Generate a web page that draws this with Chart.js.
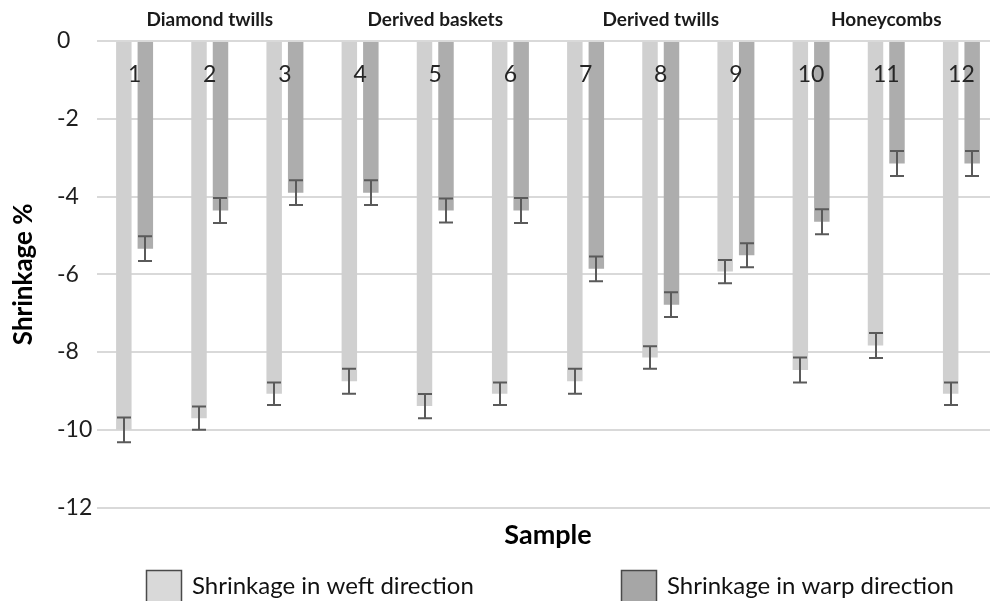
<!DOCTYPE html>
<html>
<head>
<meta charset="utf-8">
<title>Shrinkage by sample</title>
<script src="https://cdn.jsdelivr.net/npm/chart.js@4.4.1/dist/chart.umd.min.js"></script>
<style>
  html, body { margin: 0; padding: 0; background: #ffffff; overflow: hidden; }
  #wrap { width: 1000px; height: 601px; }
</style>
</head>
<body>
<div id="wrap"><canvas id="chart" width="1000" height="601"></canvas></div>
<script>
// Sample numbers and weave groups
const categories = ['1', '2', '3', '4', '5', '6', '7', '8', '9', '10', '11', '12'];
const groups = [
  { label: 'Diamond twills', from: 0, to: 2 },
  { label: 'Derived baskets', from: 3, to: 5 },
  { label: 'Derived twills', from: 6, to: 8 },
  { label: 'Honeycombs', from: 9, to: 11 }
];

// Shrinkage (%) and standard deviations
const weft = [-10.0, -9.70, -9.07, -8.75, -9.39, -9.07, -8.75, -8.14, -5.93, -8.46, -7.83, -9.07];
const warp = [-5.34, -4.36, -3.90, -3.90, -4.36, -4.36, -5.86, -6.78, -5.51, -4.65, -3.15, -3.15];
const weftErr = [0.32, 0.30, 0.29, 0.32, 0.31, 0.29, 0.32, 0.29, 0.30, 0.32, 0.32, 0.29];
const warpErr = [0.32, 0.32, 0.32, 0.32, 0.31, 0.32, 0.32, 0.32, 0.31, 0.32, 0.32, 0.32];

const seriesLabels = ['Shrinkage in weft direction', 'Shrinkage in warp direction'];
const yTicks = [0, -2, -4, -6, -8, -10, -12];

const FONT = 'Lato, "Open Sans", sans-serif';
const errors = [weftErr, warpErr];

const decorations = {
  id: 'decorations',
  afterDatasetsDraw(chart) {
    const { ctx, scales: { x, y } } = chart;
    ctx.save();

    // error bars
    ctx.strokeStyle = '#5a5a5a';
    ctx.lineWidth = 2;
    chart.data.datasets.forEach((ds, di) => {
      const meta = chart.getDatasetMeta(di);
      meta.data.forEach((bar, j) => {
        const v = ds.data[j];
        const e = errors[di][j];
        const y1 = y.getPixelForValue(v + e);
        const y2 = y.getPixelForValue(v - e);
        const cx = Math.round(bar.x);
        const hw = 7;
        ctx.beginPath();
        ctx.moveTo(cx, y1); ctx.lineTo(cx, y2);
        ctx.moveTo(cx - hw, y1); ctx.lineTo(cx + hw, y1);
        ctx.moveTo(cx - hw, y2); ctx.lineTo(cx + hw, y2);
        ctx.stroke();
      });
    });

    // sample numbers next to the zero line
    ctx.fillStyle = '#262626';
    ctx.font = '23px ' + FONT;
    ctx.textAlign = 'center';
    ctx.textBaseline = 'middle';
    const labelY = y.getPixelForValue(0) + 34;
    categories.forEach((c, j) => {
      ctx.fillText(c, x.getPixelForValue(j), labelY);
    });

    // weave group headings
    ctx.fillStyle = '#1a1a1a';
    ctx.font = 'bold 19px ' + FONT;
    groups.forEach(g => {
      const gx = (x.getPixelForValue(g.from) + x.getPixelForValue(g.to)) / 2;
      ctx.fillText(g.label, gx, 20);
    });
    ctx.restore();
  },
  afterDraw(chart) {
    const { ctx, chartArea } = chart;
    ctx.save();

    // vertical axis title
    ctx.fillStyle = '#000000';
    ctx.font = 'bold 26px ' + FONT;
    ctx.textAlign = 'center';
    ctx.textBaseline = 'middle';
    ctx.translate(24, (chartArea.top + chartArea.bottom) / 2);
    ctx.rotate(-Math.PI / 2);
    ctx.fillText('Shrinkage %', 0, 0);
    ctx.restore();

    // legend
    ctx.save();
    ctx.font = '24px ' + FONT;
    ctx.textAlign = 'left';
    ctx.textBaseline = 'alphabetic';
    const starts = [146, 621];
    chart.data.datasets.forEach((ds, di) => {
      const bx = starts[di];
      ctx.fillStyle = ds.legendFill;
      ctx.fillRect(bx, 570, 35, 36);
      ctx.strokeStyle = '#4a4a4a';
      ctx.lineWidth = 1.5;
      ctx.strokeRect(bx + 0.5, 570.5, 35, 36);
      ctx.fillStyle = '#111111';
      ctx.fillText(ds.label, bx + 46, 594);
    });
    ctx.restore();
  }
};

new Chart(document.getElementById('chart'), {
  type: 'bar',
  data: {
    labels: categories,
    datasets: [
      {
        label: seriesLabels[0],
        data: weft,
        backgroundColor: '#d0d0d0',
        legendFill: '#d9d9d9',
        categoryPercentage: 0.572,
        barPercentage: 0.72
      },
      {
        label: seriesLabels[1],
        data: warp,
        backgroundColor: '#adadad',
        legendFill: '#a6a6a6',
        categoryPercentage: 0.572,
        barPercentage: 0.72
      }
    ]
  },
  options: {
    responsive: false,
    animation: false,
    devicePixelRatio: 1,
    layout: { padding: { left: 57, right: 1, top: 41, bottom: 50 } },
    plugins: {
      legend: { display: false },
      tooltip: { enabled: false }
    },
    scales: {
      x: {
        grid: { display: false },
        border: { display: false },
        ticks: { display: false },
        title: {
          display: true,
          text: 'Sample',
          color: '#000000',
          font: { family: FONT, size: 27, weight: 'bold' },
          padding: { top: 3, bottom: 0 }
        }
      },
      y: {
        min: -12,
        max: 0,
        afterBuildTicks(scale) {
          scale.ticks = yTicks.map(v => ({ value: v }));
        },
        afterFit(scale) { scale.width = 40; },
        grid: { color: '#d9d9d9', lineWidth: 2, drawTicks: false },
        border: { display: false },
        ticks: {
          crossAlign: 'far',
          color: '#1e1e1e',
          font: { family: FONT, size: 23 },
          padding: 0
        }
      }
    }
  },
  plugins: [decorations]
});
</script>
</body>
</html>
